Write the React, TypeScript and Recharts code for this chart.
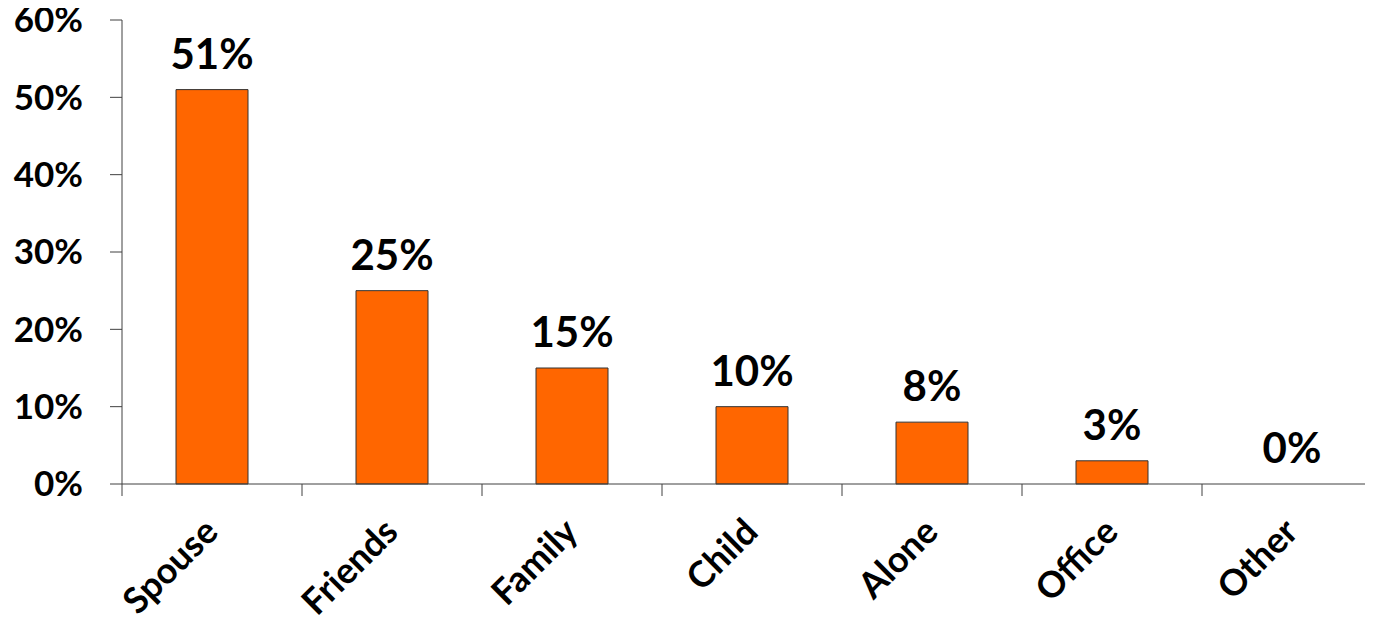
import { ComposedChart, Bar, Line, XAxis, YAxis, LabelList } from "recharts";

const categories = ["Spouse", "Friends", "Family", "Child", "Alone", "Office", "Other"];
const shares = [51, 25, 15, 10, 8, 3, 0];
const yTicks = [0, 10, 20, 30, 40, 50, 60];

const FONT = "Lato, 'Noto Sans', sans-serif";
const AXIS = "#404040";
const BAR = "#ff6600";
const BAND = 180;

const data = categories.map((name, i) => ({ name, share: shares[i] }));

// category ticks sit on the band edges, labels run up at 45 degrees
function SlantTick({ x, y, payload }: any) {
  const edge = x - BAND / 2;
  const lx = x + 8;
  const ly = y + 38;
  return (
    <g>
      <line x1={edge} y1={y - 12} x2={edge} y2={y} stroke={AXIS} />
      <text
        x={lx}
        y={ly}
        transform={`rotate(-45, ${lx}, ${ly})`}
        textAnchor="end"
        fontFamily={FONT}
        fontWeight={700}
        fontSize={36}
        fill="#000"
      >
        {payload.value}
      </text>
    </g>
  );
}

export default function App() {
  return (
    <div style={{ width: 1365, height: 623, marginTop: -8, overflow: "hidden" }}>
      <ComposedChart
        width={1380}
        height={623}
        data={data}
        margin={{ top: 20, right: 6, left: 0, bottom: 9 }}
        barCategoryGap="30%"
      >
        <XAxis
          dataKey="name"
          interval={0}
          height={130}
          tickSize={12}
          tickMargin={0}
          axisLine={{ stroke: AXIS }}
          tickLine={false}
          tick={<SlantTick />}
        />
        <YAxis
          domain={[0, 60]}
          ticks={yTicks}
          width={114}
          tickSize={12}
          tickMargin={27}
          axisLine={{ stroke: AXIS }}
          tickLine={{ stroke: AXIS }}
          tickFormatter={(v) => `${v}%`}
          tick={{ fontFamily: FONT, fontWeight: 700, fontSize: 35, fill: "#000" }}
        />
        <Bar dataKey="share" fill={BAR} stroke="#333" strokeWidth={1} isAnimationActive={false} />
        <Line
          dataKey="share"
          stroke="none"
          dot={false}
          activeDot={false}
          legendType="none"
          isAnimationActive={false}
        >
          <LabelList
            dataKey="share"
            position="top"
            offset={21}
            formatter={(v: any) => `${v}%`}
            style={{ fontFamily: FONT, fontWeight: 700, fontSize: 42, fill: "#000" }}
          />
        </Line>
      </ComposedChart>
    </div>
  );
}
